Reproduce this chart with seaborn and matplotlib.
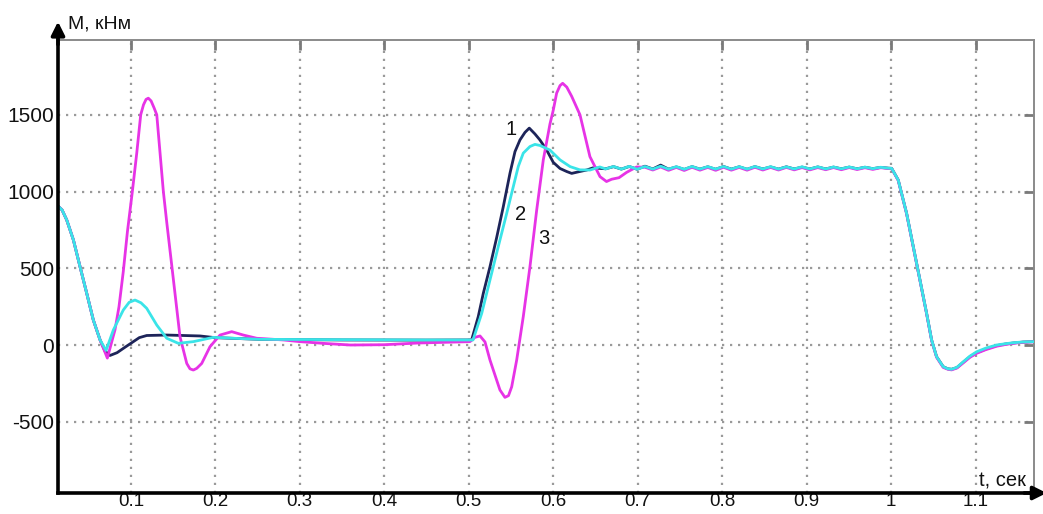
import matplotlib
matplotlib.use("Agg")
import matplotlib.pyplot as plt
import seaborn as sns
import pandas as pd

# ---- data ----
x_ticks = [0.1, 0.2, 0.3, 0.4, 0.5, 0.6, 0.7, 0.8, 0.9, 1.0, 1.1]
x_tick_labels = ["0.1", "0.2", "0.3", "0.4", "0.5", "0.6", "0.7", "0.8", "0.9", "1", "1.1"]
y_ticks = [-500, 0, 500, 1000, 1500]
y_tick_labels = ["-500", "0", "500", "1000", "1500"]

# curve 1 (navy)
t1 = [0.0138, 0.0186, 0.0241, 0.0320, 0.0399, 0.0478, 0.0556, 0.0636, 0.0695, 0.0754,
      0.0837, 0.0911, 0.1030, 0.1100, 0.1188, 0.1425, 0.1819, 0.1996, 0.2529, 0.3500,
      0.4500, 0.5034, 0.5112, 0.5172, 0.5251, 0.5330, 0.5408, 0.5488, 0.5547, 0.5606,
      0.5665, 0.5716, 0.5783, 0.5842, 0.5922, 0.6000, 0.6080, 0.6160, 0.6218, 0.6296,
      0.6395, 0.6470, 0.6620, 0.6713, 0.6806, 0.6899, 0.6992, 0.7085, 0.7178, 0.7271,
      0.7364, 0.7457, 0.7550, 0.7643, 0.7736, 0.7829, 0.7922, 0.8015, 0.8108, 0.8201,
      0.8294, 0.8387, 0.8480, 0.8573, 0.8666, 0.8759, 0.8852, 0.8945, 0.9038, 0.9131,
      0.9224, 0.9317, 0.9410, 0.9503, 0.9596, 0.9689, 0.9782, 0.9875, 0.9968, 1.0005,
      1.0083, 1.0182, 1.0261, 1.0340, 1.0419, 1.0478, 1.0537, 1.0615, 1.0670, 1.0715,
      1.0778, 1.0853, 1.0932, 1.1011, 1.1121, 1.1247, 1.1346, 1.1444, 1.1559, 1.1689]
m1 = [905, 880, 815, 685, 510, 337, 163, 33, -40, -68,
      -50, -22, 22, 48, 62, 65, 59, 48, 37, 33,
      32, 33, 185, 337, 510, 700, 900, 1120, 1260, 1336,
      1385, 1413, 1375, 1336, 1270, 1190, 1150, 1130, 1118, 1128,
      1140, 1154, 1148, 1162, 1146, 1163, 1145, 1165, 1147, 1172,
      1146, 1160, 1144, 1162, 1146, 1161, 1145, 1163, 1146, 1161,
      1145, 1162, 1147, 1160, 1146, 1161, 1147, 1159, 1147, 1160,
      1147, 1159, 1148, 1159, 1148, 1158, 1149, 1157, 1152, 1151,
      1075, 858, 641, 424, 206, 33, -76, -141, -155, -158,
      -147, -112, -76, -50, -26, -4, 6, 13, 19, 22]

# curve 2 (cyan)
t2 = [0.0138, 0.0186, 0.0241, 0.0320, 0.0399, 0.0478, 0.0556, 0.0636, 0.0707, 0.0793,
      0.0911, 0.0980, 0.1050, 0.1120, 0.1188, 0.1307, 0.1425, 0.1562, 0.1740, 0.1976,
      0.2213, 0.2529, 0.3500, 0.4500, 0.5050, 0.5153, 0.5251, 0.5349, 0.5449, 0.5527,
      0.5586, 0.5645, 0.5724, 0.5783, 0.5842, 0.5961, 0.6080, 0.6200, 0.6316, 0.6435,
      0.6550, 0.6620, 0.6713, 0.6806, 0.6899, 0.6992, 0.7085, 0.7178, 0.7271, 0.7364,
      0.7457, 0.7550, 0.7643, 0.7736, 0.7829, 0.7922, 0.8015, 0.8108, 0.8201, 0.8294,
      0.8387, 0.8480, 0.8573, 0.8666, 0.8759, 0.8852, 0.8945, 0.9038, 0.9131, 0.9224,
      0.9317, 0.9410, 0.9503, 0.9596, 0.9689, 0.9782, 0.9875, 0.9968, 1.0005, 1.0083,
      1.0182, 1.0261, 1.0340, 1.0419, 1.0478, 1.0537, 1.0615, 1.0670, 1.0715, 1.0778,
      1.0853, 1.0932, 1.1011, 1.1121, 1.1247, 1.1346, 1.1444, 1.1559, 1.1689]
m2 = [905, 880, 815, 685, 510, 337, 163, 33, -35, 98,
      228, 278, 293, 275, 239, 130, 44, 11, 22, 50,
      44, 37, 35, 33, 33, 206, 424, 641, 858, 1032,
      1163, 1250, 1293, 1307, 1300, 1270, 1206, 1162, 1141, 1140,
      1160, 1147, 1163, 1146, 1164, 1145, 1163, 1146, 1165, 1146,
      1162, 1145, 1163, 1146, 1162, 1146, 1163, 1146, 1162, 1146,
      1163, 1147, 1162, 1146, 1161, 1147, 1161, 1147, 1161, 1147,
      1160, 1148, 1160, 1148, 1159, 1149, 1158, 1152, 1151, 1075,
      858, 641, 424, 206, 33, -76, -141, -155, -158, -145,
      -109, -72, -44, -20, 0, 8, 15, 20, 22]

# curve 3 (magenta)
t3 = [0.0138, 0.0186, 0.0241, 0.0320, 0.0399, 0.0478, 0.0556, 0.0636, 0.0722, 0.0813,
      0.0860, 0.0911, 0.0960, 0.1018, 0.1070, 0.1117, 0.1150, 0.1180, 0.1207, 0.1240,
      0.1275, 0.1307, 0.1346, 0.1385, 0.1425, 0.1503, 0.1582, 0.1662, 0.1700, 0.1740,
      0.1780, 0.1839, 0.1937, 0.2056, 0.2194, 0.2331, 0.2490, 0.2805, 0.3000, 0.3300,
      0.3600, 0.4000, 0.4400, 0.5014, 0.5073, 0.5133, 0.5192, 0.5251, 0.5369, 0.5428,
      0.5470, 0.5508, 0.5567, 0.5645, 0.5724, 0.5804, 0.5882, 0.5961, 0.6000, 0.6040,
      0.6080, 0.6111, 0.6160, 0.6218, 0.6316, 0.6434, 0.6553, 0.6630, 0.6691, 0.6778,
      0.6869, 0.6987, 0.7085, 0.7178, 0.7271, 0.7364, 0.7457, 0.7550, 0.7643, 0.7736,
      0.7829, 0.7922, 0.8015, 0.8108, 0.8201, 0.8294, 0.8387, 0.8480, 0.8573, 0.8666,
      0.8759, 0.8852, 0.8945, 0.9038, 0.9131, 0.9224, 0.9317, 0.9410, 0.9503, 0.9596,
      0.9689, 0.9782, 0.9875, 0.9968, 1.0005, 1.0083, 1.0182, 1.0261, 1.0340, 1.0419,
      1.0478, 1.0537, 1.0615, 1.0670, 1.0715, 1.0778, 1.0853, 1.0932, 1.1011, 1.1121,
      1.1247, 1.1346, 1.1444, 1.1559, 1.1689]
m3 = [905, 880, 815, 685, 510, 337, 163, 33, -85, 100,
      250, 480, 740, 1000, 1250, 1500, 1565, 1600, 1608, 1590,
      1545, 1500, 1250, 1000, 800, 430, 54, -120, -155, -163,
      -152, -120, -11, 65, 87, 65, 44, 33, 22, 10,
      0, 2, 13, 22, 50, 59, 20, -98, -293, -341,
      -330, -272, -98, 185, 510, 880, 1206, 1440, 1530, 1641,
      1690, 1705, 1680, 1620, 1500, 1227, 1097, 1065, 1080, 1090,
      1125, 1160, 1158, 1140, 1160, 1138, 1157, 1137, 1158, 1139,
      1157, 1138, 1158, 1139, 1157, 1139, 1158, 1140, 1157, 1140,
      1157, 1141, 1156, 1141, 1156, 1142, 1156, 1142, 1156, 1143,
      1155, 1144, 1155, 1150, 1150, 1072, 855, 638, 421, 203,
      30, -80, -146, -158, -162, -150, -116, -80, -54, -30,
      -8, 3, 11, 18, 21]

colors = {"1": "#1d2459", "2": "#3ae4e8", "3": "#e733e6"}

# ---- plot ----
sns.set_theme(style="white")
plt.rcParams["font.family"] = ["Liberation Sans", "DejaVu Sans"]

fig = plt.figure(figsize=(10.43, 5.14), dpi=100)
ax = fig.add_axes([58 / 1043, 21 / 514, 976 / 1043, 453 / 514])

for name, t, m in (("1", t1, m1), ("3", t3, m3), ("2", t2, m2)):
    df = pd.DataFrame({"t": t, "M": m})
    sns.lineplot(data=df, x="t", y="M", ax=ax, color=colors[name], lw=2.0,
                 sort=False, estimator=None, zorder=3)

ax.set_xlim(0.0138, 1.169)
ax.set_ylim(-964, 1987)
ax.set_xticks(x_ticks)
ax.set_xticklabels(x_tick_labels)
ax.set_yticks(y_ticks)
ax.set_yticklabels(y_tick_labels)
ax.set_xlabel("")
ax.set_ylabel("")

ax.grid(True, color="#9a9a9a", linestyle=(0, (1, 2.6)), lw=1.6)
ax.tick_params(direction="in", length=7, width=2, color="#7a7a7a",
               top=True, right=True, labelsize=15, labelcolor="#111111", pad=3)
ax.tick_params(axis="x", pad=0, labelsize=13.5)

for s in ("left", "bottom"):
    ax.spines[s].set_color("black")
    ax.spines[s].set_linewidth(2.6)
    ax.spines[s].set_zorder(5)
for s in ("top", "right"):
    ax.spines[s].set_color("#8a8a8a")
    ax.spines[s].set_linewidth(1.4)

# axis arrows
ax.annotate("", xy=(0, 1.0405), xytext=(0, 0.99), xycoords="axes fraction",
            arrowprops=dict(arrowstyle="-|>", color="black", lw=2.6,
                            mutation_scale=20, shrinkA=0, shrinkB=0),
            annotation_clip=False)
ax.annotate("", xy=(1.013, 0), xytext=(0.99, 0), xycoords="axes fraction",
            arrowprops=dict(arrowstyle="-|>", color="black", lw=2.6,
                            mutation_scale=20, shrinkA=0, shrinkB=0),
            annotation_clip=False)

ax.text(0.0105, 1.035, "M, кНм", transform=ax.transAxes, ha="left", va="center",
        fontsize=14, color="#111111")
ax.text(0.944, 0.026, "t, сек", transform=ax.transAxes, ha="left", va="center",
        fontsize=14.5, color="#111111")

ax.text(0.5496, 1401, "1", ha="center", va="center", fontsize=14.5, color="#111111")
ax.text(0.5614, 853, "2", ha="center", va="center", fontsize=14.5, color="#111111")
ax.text(0.5890, 691, "3", ha="center", va="center", fontsize=14.5, color="#111111")

fig.savefig("out.png", dpi=100)
